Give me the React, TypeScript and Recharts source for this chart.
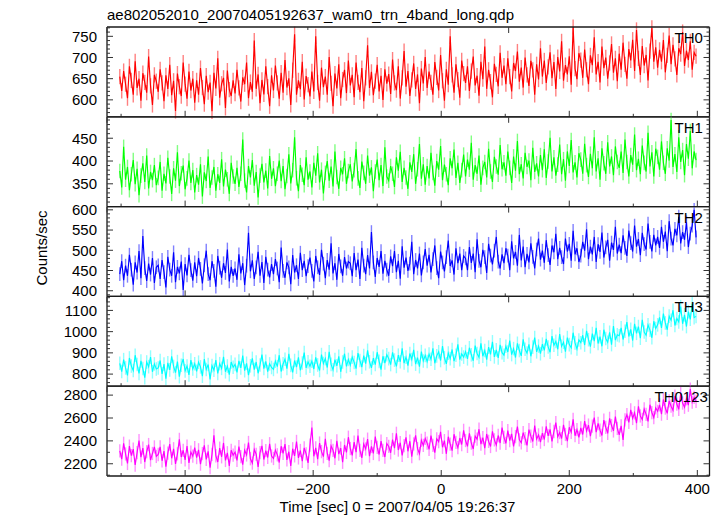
import React from "react";
import { ErrorBar, Line, LineChart, XAxis, YAxis } from "recharts";

// light curve bins: start time and bin width (sec)
const T_START = -502;
const T_STEP = 3;

const TH0_RATE = [
  655, 621, 668, 637, 604, 679, 646, 612, 691, 628, 650, 598, 663, 641, 617, 702, 633, 588, 659, 644,
  619, 672, 640, 597, 658, 626, 683, 611, 645, 574, 662, 631, 609, 688, 637, 603, 667, 622, 650, 593,
  646, 612, 675, 629, 590, 657, 618, 641, 573, 664, 627, 698, 605, 638, 652, 581, 669, 624, 609, 646,
  615, 671, 628, 596, 653, 637, 688, 604, 642, 619, 740, 626, 660, 592, 647, 613, 679, 631, 585, 658,
  622, 681, 640, 603, 664, 617, 694, 629, 651, 588, 670, 755, 612, 646, 625, 690, 601, 656, 636, 608,
  667, 620, 750, 641, 598, 676, 630, 655, 612, 701, 639, 585, 662, 627, 684, 604, 648, 671, 616, 693,
  634, 659, 606, 688, 641, 618, 675, 597, 652, 729, 628, 666, 611, 644, 683, 620, 657, 600, 672, 638,
  661, 614, 695, 640, 623, 679, 603, 652, 715, 631, 668, 609, 647, 686, 626, 660, 592, 674, 639, 701,
  628, 667, 641, 612, 689, 653, 622, 706, 645, 598, 672, 636, 750, 659, 617, 684, 648, 605, 693, 662,
  640, 679, 621, 668, 702, 634, 657, 610, 690, 649, 726, 626, 671, 643, 606, 685, 660, 632, 711, 652,
  681, 637, 698, 655, 620, 687, 668, 714, 643, 676, 629, 700, 659, 633, 692, 671, 612, 684, 648, 722,
  655, 693, 640, 678, 712, 651, 689, 626, 701, 667, 738, 645, 682, 660, 703, 636, 772, 674, 649, 710,
  694, 652, 719, 671, 637, 705, 682, 748, 660, 690, 641, 726, 675, 700, 650, 687, 732, 664, 698, 644,
  709, 671, 735, 684, 650, 720, 693, 742, 668, 765, 698, 659, 727, 681, 706, 646, 715, 770, 690, 724,
  676, 718, 690, 741, 665, 705, 752, 684, 730, 697, 659, 722, 708, 760, 680, 716, 694, 738, 671, 712,
  703,
];

const TH1_RATE = [
  378, 342, 431, 359, 387, 336, 371, 402, 349, 383, 325, 368, 395, 354, 412, 340, 376, 358, 391, 347,
  363, 398, 335, 372, 351, 407, 366, 328, 384, 357, 419, 345, 373, 390, 338, 362, 401, 352, 380, 331,
  369, 348, 393, 322, 375, 356, 410, 341, 364, 387, 335, 371, 352, 404, 344, 381, 360, 328, 396, 366,
  350, 385, 343, 372, 447, 357, 331, 389, 364, 402, 346, 376, 320, 368, 394, 353, 379, 340, 411, 361,
  384, 345, 372, 401, 356, 389, 338, 367, 415, 351, 380, 452, 362, 334, 391, 370, 347, 408, 359, 377,
  342, 396, 368, 417, 353, 381, 329, 374, 400, 357, 388, 344, 421, 365, 339, 385, 371, 406, 350, 378,
  393, 355, 380, 426, 362, 341, 399, 374, 350, 412, 368, 386, 334, 377, 403, 358, 391, 345, 430, 366,
  357, 389, 372, 343, 408, 379, 420, 354, 385, 364, 339, 397, 376, 415, 350, 382, 437, 361, 393, 348,
  389, 362, 418, 374, 346, 400, 381, 433, 358, 392, 371, 347, 406, 384, 425, 363, 396, 352, 380, 414,
  366, 403, 381, 440, 359, 391, 372, 412, 348, 385, 398, 364, 427, 377, 354, 409, 388, 370, 435, 382,
  397, 368, 421, 385, 352, 410, 379, 444, 371, 393, 362, 418, 387, 401, 358, 429, 376, 395, 366, 413,
  380, 426, 363, 399, 451, 377, 408, 368, 392, 436, 371, 404, 357, 421, 389, 446, 375, 397, 364, 417,
  403, 372, 438, 391, 365, 416, 384, 452, 377, 406, 359, 428, 395, 372, 441, 388, 410, 369, 432, 398,
  385, 421, 374, 447, 398, 366, 413, 392, 458, 380, 405, 371, 434, 396, 377, 462, 388, 419, 366, 427,
  409, 381, 443, 396, 372, 428, 401, 490, 387, 415, 376, 452, 398, 424, 369, 437, 405, 466, 384, 421,
  402,
];

const TH2_RATE = [
  441, 473, 426, 462, 437, 489, 452, 415, 470, 445, 498, 431, 535, 456, 424, 467, 440, 481, 419, 458,
  463, 429, 476, 446, 408, 484, 452, 437, 495, 421, 459, 443, 472, 402, 466, 438, 489, 451, 425, 470,
  436, 481, 454, 418, 463, 499, 441, 426, 473, 449, 410, 486, 457, 432, 468, 444, 502, 423, 459, 437,
  455, 427, 490, 443, 468, 414, 462, 543, 448, 475, 429, 458, 496, 437, 471, 419, 484, 452, 433, 466,
  441, 478, 455, 421, 507, 449, 432, 470, 458, 416, 488, 445, 463, 429, 494, 451, 474, 436, 461, 482,
  449, 423, 486, 458, 439, 501, 467, 431, 476, 452, 517, 443, 468, 427, 491, 460, 437, 483, 455, 472,
  468, 436, 493, 451, 477, 429, 506, 462, 441, 488, 455, 545, 470, 434, 481, 459, 498, 442, 474, 452,
  437, 485, 461, 498, 446, 474, 430, 510, 457, 482, 449, 467, 521, 441, 476, 455, 492, 438, 470, 503,
  462, 489, 445, 478, 512, 456, 431, 497, 470, 448, 483, 524, 461, 475, 440, 505, 468, 492, 451, 486,
  480, 451, 508, 469, 492, 446, 527, 474, 458, 501, 483, 444, 516, 487, 465, 499, 533, 472, 455, 490,
  468, 505, 487, 451, 522, 480, 496, 462, 538, 475, 509, 458, 491, 470, 517, 484, 455, 502, 529, 477,
  499, 469, 525, 488, 464, 512, 495, 541, 478, 506, 483, 466, 529, 497, 516, 474, 548, 490, 505, 471,
  487, 521, 499, 552, 478, 509, 490, 533, 471, 515, 496, 544, 482, 507, 526, 474, 519, 501, 558, 492,
  514, 493, 537, 506, 486, 549, 518, 497, 561, 509, 528, 488, 543, 515, 502, 566, 521, 497, 538, 512,
  533, 506, 558, 521, 546, 498, 572, 529, 512, 553, 537, 583, 517, 545, 526, 569, 508, 541, 561, 600,
  532,
];

const TH3_RATE = [
  851, 812, 868, 829, 794, 876, 838, 817, 889, 845, 803, 862, 826, 783, 857, 835, 880, 811, 848, 824,
  829, 864, 801, 847, 779, 853, 820, 884, 836, 807, 859, 788, 842, 871, 815, 838, 796, 866, 824, 849,
  813, 856, 834, 790, 871, 822, 845, 775, 840, 818, 866, 803, 849, 827, 881, 811, 838, 797, 857, 832,
  846, 808, 862, 829, 887, 816, 851, 795, 839, 874, 821, 857, 804, 843, 892, 826, 860, 812, 848, 831,
  822, 861, 835, 889, 812, 848, 870, 826, 895, 841, 808, 864, 833, 879, 818, 852, 901, 829, 858, 837,
  861, 824, 879, 843, 817, 892, 850, 873, 831, 905, 846, 820, 868, 839, 884, 811, 857, 896, 836, 869,
  842, 880, 855, 826, 899, 864, 833, 887, 849, 912, 858, 829, 875, 845, 903, 860, 821, 884, 852, 891,
  873, 845, 902, 866, 836, 889, 858, 921, 852, 880, 840, 897, 869, 914, 847, 878, 835, 906, 862, 888,
  859, 894, 870, 921, 851, 886, 905, 864, 932, 877, 848, 899, 873, 916, 861, 889, 940, 868, 895, 880,
  906, 872, 924, 891, 863, 934, 897, 879, 945, 884, 911, 868, 927, 893, 952, 881, 914, 876, 938, 901,
  889, 931, 904, 958, 892, 920, 878, 945, 911, 886, 964, 917, 899, 940, 884, 927, 972, 905, 932, 896,
  941, 912, 966, 928, 903, 979, 936, 954, 917, 988, 931, 950, 906, 972, 939, 924, 995, 947, 918, 961,
  948, 983, 937, 1004, 962, 929, 991, 955, 1018, 944, 976, 931, 1009, 968, 950, 997, 939, 1026, 960, 985,
  981, 1018, 963, 1002, 1045, 977, 1011, 958, 1037, 992, 1024, 969, 1056, 998, 983, 1032, 1007, 971, 1049, 1015,
  1032, 1067, 1018, 1085, 1041, 1009, 1073, 1054, 1101, 1029, 1062, 1046, 1118, 1037, 1079, 1024, 1094, 1058, 1131, 1066,
  1072,
];

const TH0123_RATE = [
  2312, 2241, 2379, 2286, 2203, 2354, 2271, 2328, 2189, 2297, 2402, 2258, 2336, 2215, 2305, 2368, 2232, 2290, 2347, 2264,
  2281, 2347, 2226, 2310, 2175, 2293, 2372, 2248, 2331, 2199, 2287, 2413, 2259, 2318, 2234, 2355, 2207, 2302, 2266, 2341,
  2254, 2322, 2197, 2289, 2361, 2238, 2309, 2166, 2283, 2448, 2270, 2215, 2336, 2261, 2382, 2229, 2296, 2182, 2318, 2275,
  2301, 2229, 2350, 2262, 2193, 2318, 2277, 2386, 2244, 2206, 2325, 2283, 2172, 2298, 2356, 2237, 2314, 2255, 2375, 2268,
  2246, 2319, 2278, 2211, 2353, 2290, 2372, 2233, 2305, 2180, 2331, 2269, 2395, 2251, 2316, 2222, 2339, 2287, 2208, 2362,
  2517, 2265, 2338, 2241, 2381, 2306, 2262, 2419, 2290, 2227, 2356, 2318, 2248, 2401, 2284, 2337, 2213, 2364, 2299, 2432,
  2333, 2274, 2389, 2301, 2446, 2318, 2252, 2372, 2329, 2415, 2267, 2351, 2290, 2438, 2343, 2281, 2398, 2316, 2259, 2377,
  2351, 2296, 2412, 2337, 2466, 2320, 2384, 2273, 2358, 2431, 2309, 2397, 2262, 2373, 2449, 2332, 2288, 2405, 2361, 2421,
  2380, 2326, 2447, 2361, 2298, 2418, 2393, 2479, 2344, 2402, 2287, 2436, 2372, 2315, 2458, 2387, 2341, 2425, 2368, 2492,
  2403, 2352, 2466, 2381, 2329, 2441, 2415, 2502, 2372, 2428, 2337, 2460, 2396, 2351, 2484, 2409, 2364, 2447, 2381, 2516,
  2431, 2378, 2489, 2402, 2461, 2352, 2437, 2525, 2409, 2383, 2472, 2420, 2361, 2498, 2441, 2395, 2533, 2416, 2452, 2389,
  2468, 2412, 2527, 2443, 2501, 2395, 2482, 2559, 2437, 2473, 2421, 2541, 2456, 2398, 2519, 2475, 2588, 2445, 2498, 2431,
  2513, 2456, 2572, 2487, 2538, 2441, 2529, 2603, 2476, 2552, 2494, 2447, 2581, 2519, 2466, 2597, 2534, 2487, 2612, 2509,
  2452, 2531, 2408, 2583, 2629, 2561, 2671, 2596, 2645, 2554, 2702, 2618, 2587, 2679, 2632, 2571, 2716, 2648, 2603, 2689,
  2658, 2715, 2634, 2762, 2687, 2641, 2749, 2703, 2668, 2791, 2722, 2676, 2815, 2731, 2694, 2768, 2712, 2853, 2739, 2780,
  2746,
];

// 1-sigma errors per band (counts/sec)
const TH0_ERR = 18;
const TH1_ERR = 16;
const TH2_ERR = 17;
const TH3_ERR = 32;
const TH0123_ERR = 58;

const X_DOMAIN = [-522, 419];
const X_MAJOR = [-400, -200, 0, 200, 400];
const X_TICKS = [-500, -400, -300, -200, -100, 0, 100, 200, 300, 400];

const steps = (from: number, to: number, by: number) => {
  const out: number[] = [];
  for (let v = from; v <= to; v += by) out.push(v);
  return out;
};

const W = 724;
const H = 516;
const PLOT_LEFT = 107;
const PLOT_RIGHT = 709.5;
const PLOT_TOP = 27;
const PANEL_H = 89.8;
const FONT = "'Liberation Sans', Arial, Helvetica, sans-serif";
const FRAME = "#1a1a1a";

const panels = [
  { name: "TH0", rate: TH0_RATE, err: TH0_ERR, color: "#ff0000", errColor: "#ff8080", domain: [560, 772], major: [600, 650, 700, 750], ticks: steps(570, 770, 10), labelX: 674.5 },
  { name: "TH1", rate: TH1_RATE, err: TH1_ERR, color: "#00ff00", errColor: "#80ff80", domain: [300, 497], major: [350, 400, 450], ticks: steps(310, 490, 10), labelX: 674.5 },
  { name: "TH2", rate: TH2_RATE, err: TH2_ERR, color: "#0000ff", errColor: "#8080ff", domain: [386, 608], major: [400, 450, 500, 550, 600], ticks: steps(390, 600, 10), labelX: 674.5 },
  { name: "TH3", rate: TH3_RATE, err: TH3_ERR, color: "#00ffff", errColor: "#90ffff", domain: [743, 1166], major: [800, 900, 1000, 1100], ticks: steps(760, 1160, 20), labelX: 674.5 },
  { name: "TH0123", rate: TH0123_RATE, err: TH0123_ERR, color: "#ff00ff", errColor: "#ff90ff", domain: [2093, 2878], major: [2200, 2400, 2600, 2800], ticks: steps(2100, 2800, 100), labelX: 654.5 },
];

const fmt = (v: number) => (v < 0 ? "\u2212" + Math.abs(v) : String(v));

function yTick(side: "left" | "right", major: number[]) {
  return (props: any) => {
    const { x, y, payload } = props;
    const isMajor = major.includes(payload.value);
    const len = isMajor ? 6 : 3;
    const dir = side === "left" ? 1 : -1;
    return (
      <g>
        <line x1={x} y1={y} x2={x + dir * len} y2={y} stroke="#333" strokeWidth={1} />
        {side === "left" && isMajor && (
          <text x={x - 10} y={y + 5.3} textAnchor="end" fontSize={15} fontFamily={FONT} fill="#000">
            {payload.value}
          </text>
        )}
      </g>
    );
  };
}

function xTick(side: "top" | "bottom", showLabel: boolean) {
  return (props: any) => {
    const { x, y, payload } = props;
    const isMajor = X_MAJOR.includes(payload.value);
    const len = isMajor ? 6 : 3;
    const dir = side === "top" ? 1 : -1;
    return (
      <g>
        <line x1={x} y1={y} x2={x} y2={y + dir * len} stroke="#333" strokeWidth={1} />
        {showLabel && isMajor && (
          <text x={x} y={y + 17.5} textAnchor="middle" fontSize={15} fontFamily={FONT} fill="#000">
            {fmt(payload.value)}
          </text>
        )}
      </g>
    );
  };
}

function Panel({ p, index }: { p: (typeof panels)[number]; index: number }) {
  const top = PLOT_TOP + index * PANEL_H;
  const bottom = top + PANEL_H;
  const last = index === panels.length - 1;
  const data = p.rate.map((v, i) => ({ t: T_START + i * T_STEP, v, err: p.err }));
  return (
    <div style={{ position: "absolute", left: 0, top: 0 }}>
      <LineChart width={W} height={H} data={data} margin={{ top: 0, right: 0, bottom: 0, left: 0 }}>
        <XAxis
          xAxisId="b"
          dataKey="t"
          type="number"
          orientation="bottom"
          height={H - bottom}
          domain={X_DOMAIN}
          allowDataOverflow
          ticks={X_TICKS}
          interval={0}
          tickSize={0}
          tickMargin={0}
          tickLine={false}
          tick={xTick("bottom", last)}
          axisLine={{ stroke: FRAME, strokeWidth: 1.3 }}
        />
        <XAxis
          xAxisId="t"
          type="number"
          orientation="top"
          height={top}
          domain={X_DOMAIN}
          allowDataOverflow
          ticks={X_TICKS}
          interval={0}
          tickSize={0}
          tickMargin={0}
          tickLine={false}
          tick={xTick("top", false)}
          axisLine={{ stroke: FRAME, strokeWidth: 1.3 }}
        />
        <YAxis
          yAxisId="l"
          type="number"
          orientation="left"
          width={PLOT_LEFT}
          domain={p.domain}
          allowDataOverflow
          ticks={p.ticks}
          interval={0}
          tickSize={0}
          tickMargin={0}
          tickLine={false}
          tick={yTick("left", p.major)}
          axisLine={{ stroke: FRAME, strokeWidth: 1.3 }}
        />
        <YAxis
          yAxisId="r"
          type="number"
          orientation="right"
          width={W - PLOT_RIGHT}
          domain={p.domain}
          allowDataOverflow
          ticks={p.ticks}
          interval={0}
          tickSize={0}
          tickMargin={0}
          tickLine={false}
          tick={yTick("right", p.major)}
          axisLine={{ stroke: FRAME, strokeWidth: 1.3 }}
        />
        <Line
          xAxisId="b"
          yAxisId="l"
          dataKey="v"
          type="linear"
          stroke="none"
          dot={false}
          activeDot={false}
          isAnimationActive={false}
        >
          <ErrorBar dataKey="err" direction="y" width={0} stroke={p.errColor} strokeWidth={1.4} isAnimationActive={false} />
        </Line>
        <Line
          xAxisId="b"
          yAxisId="l"
          dataKey="v"
          type="linear"
          stroke={p.color}
          strokeWidth={1.15}
          dot={false}
          activeDot={false}
          isAnimationActive={false}
        />
      </LineChart>
    </div>
  );
}

export default function App() {
  return (
    <div style={{ position: "absolute", left: 0, top: 0, width: W, height: H, background: "#fff", fontFamily: FONT }}>
      {panels.map((p, i) => (
        <Panel key={p.name} p={p} index={i} />
      ))}
      <svg width={W} height={H} style={{ position: "absolute", left: 0, top: 0, pointerEvents: "none" }}>
        <text x={107} y={19.5} fontSize={15} fontFamily={FONT} fill="#000">
          ae802052010_20070405192637_wam0_trn_4band_long.qdp
        </text>
        {panels.map((p, i) => (
          <text key={p.name} x={p.labelX} y={PLOT_TOP + i * PANEL_H + 16} fontSize={15} fontFamily={FONT} fill="#000">
            {p.name}
          </text>
        ))}
        <text transform="translate(46.5,248) rotate(-90)" textAnchor="middle" fontSize={15} fontFamily={FONT} fill="#000">
          Counts/sec
        </text>
        <text x={397.5} y={511.5} textAnchor="middle" fontSize={15} fontFamily={FONT} fill="#000">
          Time [sec] 0 = 2007/04/05 19:26:37
        </text>
      </svg>
    </div>
  );
}
